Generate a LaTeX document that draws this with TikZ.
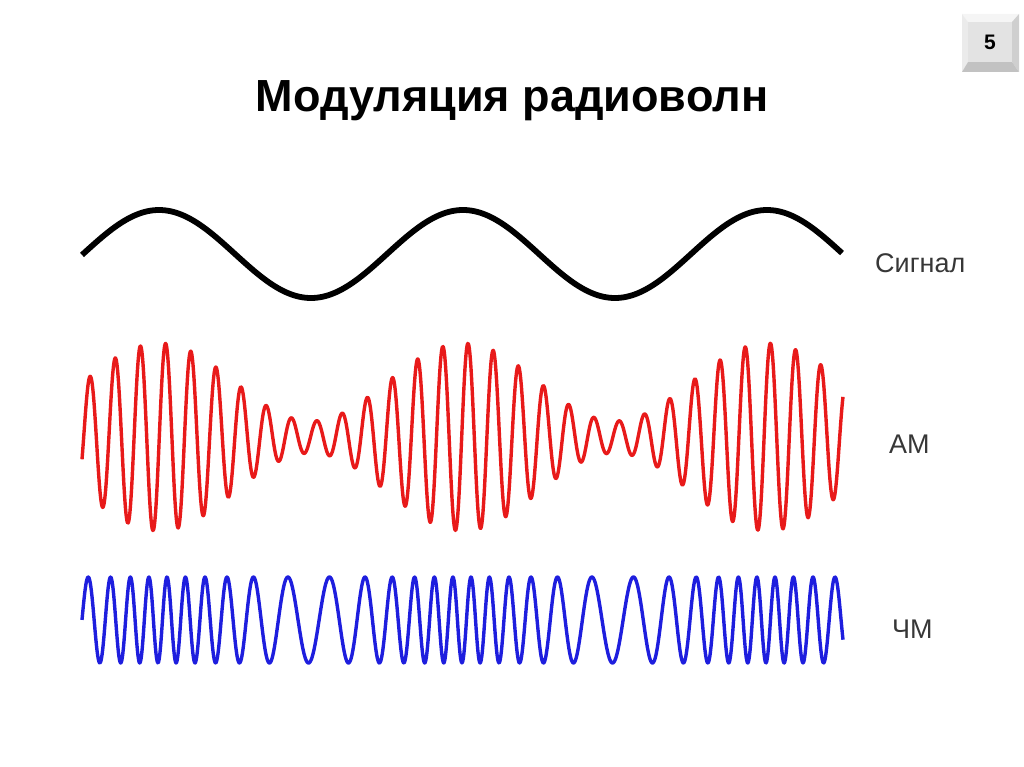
\documentclass[tikz,border=0pt]{standalone}
\usepackage{fontspec}
\setmainfont{Liberation Sans}
\usetikzlibrary{positioning}

\definecolor{amred}{RGB}{232,26,26}
\definecolor{fmblue}{RGB}{30,30,222}
\definecolor{labgray}{RGB}{55,55,55}

\begin{document}
\begin{tikzpicture}[x=1pt,y=-1pt,
wave/.style={line width=3.4pt, line join=round},
sigline/.style={line width=5.8pt, black},
lbl/.style={anchor=base west, inner sep=0pt, text=labgray, font=\fontsize{27}{30}\selectfont},
]
\useasboundingbox (0,0) rectangle (1024,767);

% Title
\node[anchor=base, inner sep=0pt, font=\bfseries\fontsize{45}{50}\selectfont] (title) at (512,112) {Модуляция радиоволн};

% Page badge
\fill[gray!8] (962,14) -- (1019,14) -- (1012,22) -- (968,22) -- cycle;
\fill[gray!16] (962,14) -- (968,22) -- (968,62) -- (962,72) -- cycle;
\fill[gray!38] (1019,14) -- (1019,72) -- (1012,62) -- (1012,22) -- cycle;
\fill[gray!48] (962,72) -- (1019,72) -- (1012,62) -- (968,62) -- cycle;
\fill[gray!22] (968,22) rectangle (1012,62);
\node[font=\bfseries\fontsize{21}{24}\selectfont] (pagenum) at (990,42) {5};

% Waves
\draw[sigline] plot[domain=82:842, samples=400] (\x, {254-44*cos((\x-159)/304*360)});
\draw[wave, amred] plot[domain=82:843, samples=1400]
  (\x, {437-(55+39*cos((\x-463)/304*360))*cos((\x-468)/25.2*360)});
\draw[wave, fmblue] plot[domain=82:843, samples=1400]
  (\x, {620-43*cos((\x-167)/304*4320+276.7*(sin((\x-159)/304*360)-0.164))});

% Label
\node[lbl] (labsig) at (875,272) {Сигнал};
\node[lbl] (labam) at (889,453) {АМ};
\node[lbl] (labfm) at (892,638) {ЧМ};

\end{tikzpicture}
\end{document}
